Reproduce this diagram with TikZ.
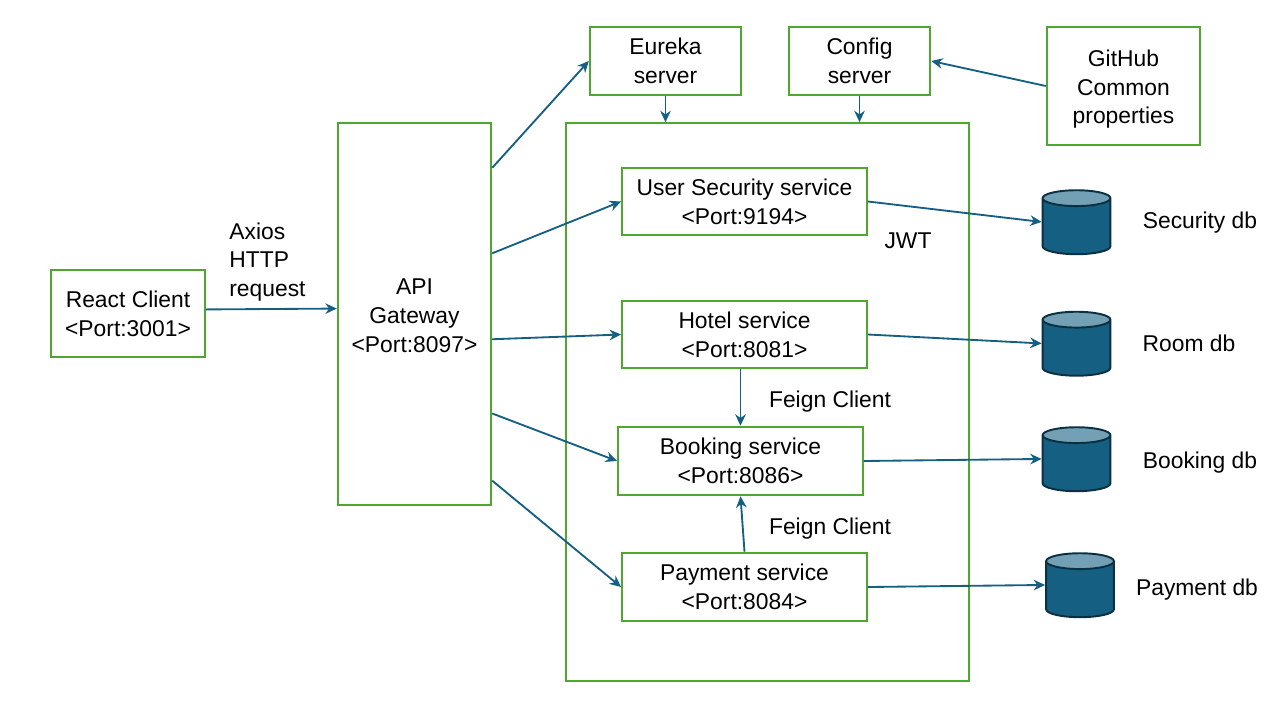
\documentclass[tikz,border=0pt]{standalone}
\usepackage{fontspec}
\setmainfont{Liberation Sans}
\usetikzlibrary{arrows.meta,shapes.geometric}
\definecolor{boxgreen}{HTML}{4EA72E}
\definecolor{linkblue}{HTML}{156082}
\definecolor{dbtop}{HTML}{73A0B4}
\definecolor{dbedge}{HTML}{0B3041}
\tikzset{
	box/.style={draw=boxgreen, line width=1.15pt, align=center, inner sep=0pt},
	link/.style={draw=linkblue, line width=1.05pt, -{Stealth[length=6.5pt,width=6pt]}},
	label/.style={align=left, inner sep=0pt},
	database/.style={cylinder, shape border rotate=90, draw=dbedge, line width=1.1pt, shape aspect=0.5,
		cylinder uses custom fill, cylinder body fill=linkblue, cylinder end fill=dbtop,
		minimum width=38.6pt, minimum height=36.4pt, inner sep=9pt},
}
\begin{document}
\begin{tikzpicture}[x=0.02cm, y=-0.02cm, every node/.append style={font=\fontsize{13}{16.4}\selectfont}]
	%%%%% START %%%%%
	\useasboundingbox (0, 0) rectangle (1280, 720);

	\node[box, minimum width=87.3pt, minimum height=49.8pt] (react) at (128, 313.5) {React Client\\<Port:3001>};
	\node[box, minimum width=87.3pt, minimum height=217pt] (gateway) at (414.5, 314) {\rule{0pt}{11pt}API\\Gateway\\<Port:8097>};
	\node[box, minimum width=86.1pt, minimum height=39pt] (eureka) at (665.5, 61) {Eureka\\server};
	\node[box, minimum width=80.5pt, minimum height=39pt] (config) at (859.5, 61) {Config\\server};
	\node[box, minimum width=87.3pt, minimum height=67.4pt] (github) at (1123.5, 86) {\rule{0pt}{13pt}GitHub\\Common\\properties};
	\node[box, minimum width=229.5pt, minimum height=317.4pt] (platform) at (767.5, 402) {};

	\node[box, minimum width=139.4pt, minimum height=38.5pt] (user) at (744.5, 201.5) {User Security service\\<Port:9194>};
	\node[box, minimum width=139.4pt, minimum height=38.5pt] (hotel) at (744.5, 334.5) {Hotel service\\<Port:8081>};
	\node[box, minimum width=139.4pt, minimum height=39pt] (booking) at (740.5, 461) {Booking service\\<Port:8086>};
	\node[box, minimum width=139.4pt, minimum height=39pt] (payment) at (744.5, 587) {Payment service\\<Port:8084>};

	\node[database] (securitydb) at (1076.5, 230) {};
	\node[database] (roomdb) at (1076.5, 351.5) {};
	\node[database] (bookingdb) at (1076.5, 467) {};
	\node[database] (paymentdb) at (1080, 593) {};

	\node[label] (securitytext) at (1200, 222.5) {Security db};
	\node[label] (roomtext) at (1189, 343.5) {Room db};
	\node[label] (bookingtext) at (1200, 462.5) {Booking db};
	\node[label] (paymenttext) at (1197, 589.5) {Payment db};

	\node[label, anchor=west] (axios) at (229, 262) {Axios\\HTTP\\request};
	\node[label] (jwt) at (908, 241) {JWT};
	\node[label] (feignupper) at (830, 401.5) {Feign Client};
	\node[label] (feignlower) at (830, 528.5) {Feign Client};

	\draw[link] (react.3.3) -- (gateway.176.3);
	\draw[link] (gateway.62.3) -- (eureka.west);
	\draw[link] (gateway.38.1) -- (user.west);
	\draw[link] (gateway.-18.8) -- (hotel.west);
	\draw[link] (gateway.-52.3) -- (booking.west);
	\draw[link] (gateway.-65.3) -- (payment.west);

	\draw[link] (eureka.south) -- (eureka.south |- platform.north);
	\draw[link] (config.south) -- (config.south |- platform.north);
	\draw[link] (github.west) -- (config.east);

	\draw[link] (user.east) -- (securitydb.167);
	\draw[link] (hotel.east) -- (roomdb.167);
	\draw[link] (booking.east) -- (bookingdb.167);
	\draw[link] (payment.east) -- (paymentdb.167);

	\draw[link] (booking.north |- hotel.south) -- (booking.north);
	\draw[link] (payment.north) -- (booking.south);
	%%%%% END %%%%%
\end{tikzpicture}
\end{document}
